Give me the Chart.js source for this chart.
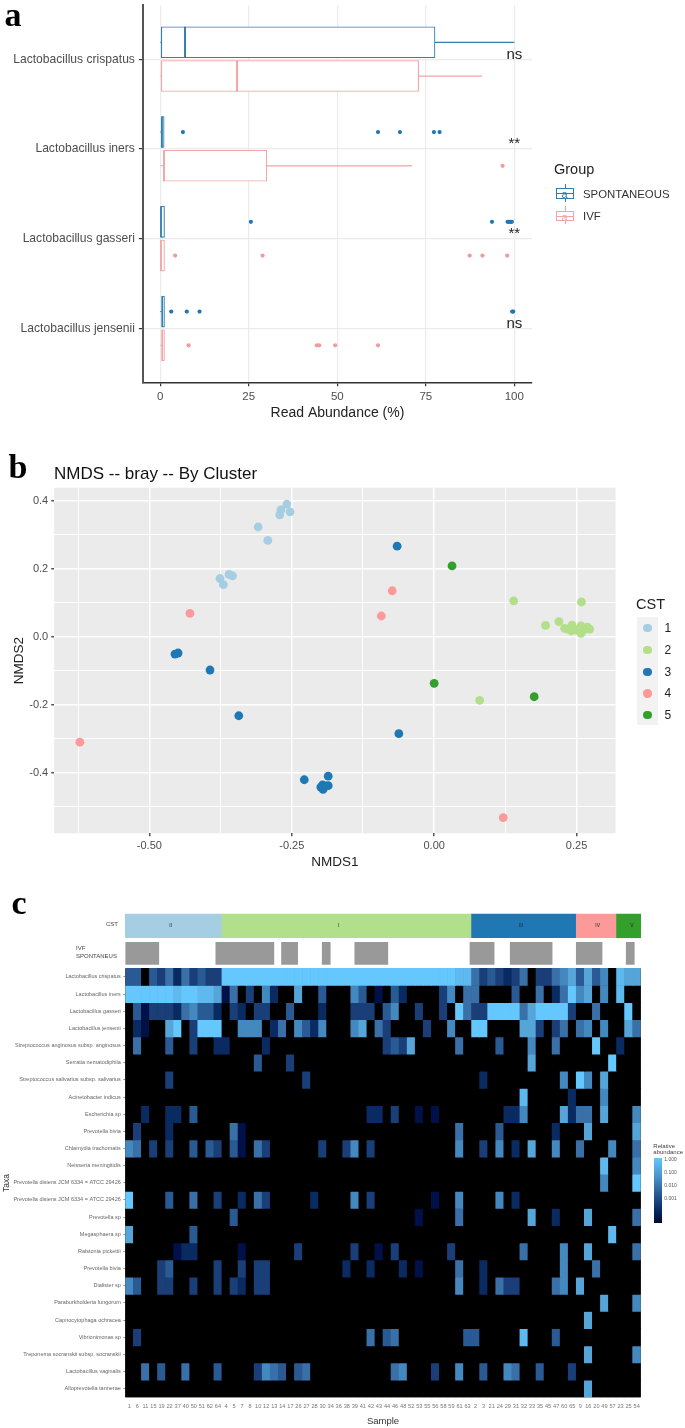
<!DOCTYPE html>
<html><head><meta charset="utf-8"><title>Vaginal microbiome panels</title>
<script src="https://cdn.jsdelivr.net/npm/chart.js@4"></script>
<style>
html,body{margin:0;padding:0;background:#fff}
#page{position:relative;width:685px;height:1428px;overflow:hidden;font-family:"Liberation Sans",Arial,sans-serif;filter:blur(.45px)}
canvas{position:absolute;left:0;display:block}
.t{position:absolute;white-space:nowrap;line-height:1;transform:translateY(-50%)}
.s{position:absolute;box-sizing:border-box}
</style></head><body><div id="page">
<canvas id="ca" width="685" height="450" style="top:-10px"></canvas>
<canvas id="cb" width="685" height="430" style="top:450px"></canvas>
<canvas id="cc" width="685" height="538" style="top:890px"></canvas>
</div>
<script>
/* ---------- panel a: box plots ---------- */
const species = ['Lactobacillus crispatus','Lactobacillus iners','Lactobacillus gasseri','Lactobacillus jensenii'];
const groupNames = ['SPONTANEOUS','IVF'];
const significance = ['ns','**','**','ns'];
const lowSpont = [0,0,0,0];
const q1Spont = [0.3,0.3,0,0.4];
const medSpont = [7,0.5,0.2,0.6];
const q3Spont = [77.6,1.1,1.2,1.2];
const highSpont = [100,1.1,1.2,1.2];
const lowIvf = [0,0,0,0];
const q1Ivf = [0.3,0.9,0,0.4];
const medIvf = [21.7,1.1,0.2,0.6];
const q3Ivf = [73,30.1,1.2,1.2];
const highIvf = [90.9,71.1,1.2,1.2];
const outliersSpont = [[],[6.4,61.5,67.7,77.3,78.9],[25.6,93.7,98.1,98.5,98.9,99.3],[3.1,7.5,11.1,99.4,99.7]];
const outliersIvf = [[],[96.7],[4.2,28.9,87.4,91,98],[8,44.2,44.9,49.4,61.5]];
const xTicksA = [0,25,50,75,100];

/* ---------- panel b: NMDS ordination ---------- */
const cstNames = ['1','2','3','4','5'];
const cst1x = [-.2585,-.271,-.269,-.253,-.309,-.292,-.360,-.354,-.376,-.370];
const cst1y = [.390,.358,.3725,.367,.3225,.283,.183,.179,.171,.153];
const cst2x = [.1396,.2585,.1956,.219,.229,.235,.241,.242,.25,.258,.258,.264,.269,.273,.255,.0798];
const cst2y = [.105,.102,.033,.044,.0245,.022,.0167,.034,.0196,.0098,.032,.0216,.028,.0225,.017,-.187];
const cst3x = [-.065,-.455,-.4495,-.3935,-.343,-.062,-.228,-.186,-.196,-.195,-.191,-.186,-.199];
const cst3y = [.266,-.051,-.048,-.098,-.2324,-.285,-.4206,-.41,-.436,-.449,-.439,-.438,-.442];
const cst4x = [-.4287,-.0736,-.0928,-.622,.1212];
const cst4y = [.0686,.135,.0608,-.31,-.532];
const cst5x = [.0314,0,.1756];
const cst5y = [.208,-.137,-.1765];
const xMajorB = [-.5,-.25,0,.25];
const xMinorB = [-.625,-.375,-.125,.125];
const yMajorB = [-.4,-.2,0,.2,.4];
const yMinorB = [-.5,-.3,-.1,.1,.3];

/* ---------- panel c: heat map ---------- */
const samples = ['1','6','11','15','19','22','37','40','50','51','62','64','4','5','7','8','10','12','13','14','17','26','27','28','30','34','36','38','39','41','42','43','44','46','48','52','53','55','56','58','59','61','63','2','3','21','24','29','31','32','33','35','45','47','60','65','9','16','20','49','57','23','25','54'];
const taxa = ['Lactobacillus crispatus','Lactobacillus iners','Lactobacillus gasseri','Lactobacillus jensenii','Streptococcus anginosus subsp. anginosus','Serratia nematodiphila','Streptococcus salivarius subsp. salivarius','Acinetobacter indicus','Escherichia sp','Prevotella bivia','Chlamydia trachomatis','Neisseria meningitidis','Prevotella disiens JCM 6334 = ATCC 29426','Prevotella disiens JCM 6334 = ATCC 29426','Prevotella sp','Megasphaera sp','Ralstonia pickettii','Prevotella bivia','Dialister sp','Paraburkholderia fungorum','Capnocytophaga ochracea','Vibrionimonas sp','Treponema socranskii subsp. socranskii','Lactobacillus vaginalis','Alloprevotella tannerae'];
/* colour level per sample: 0 = absent, 9 = about 1.000 relative abundance */
const levelColors = ['#000000','#001048','#0a2a62','#1a3e78','#2a5a94','#3a70a8','#4488c0','#55a5d8','#5ebaee','#64c8ff'];
/* first four taxa, every sample in order */
const crispatus = [4,4,0,4,3,5,2,5,3,4,3,3, 9,9,9,9,9,9,9,9,9,9,9,9,9,9,9,9,9,9,9,9,9,9,9,9,9,9,9,9,9,8,8, 5,3,4,3,2,3,5,0,3,3,5,6,7,4,7,4,6,0,8,7,7];
const iners = [9,9,9,9,9,9,8,9,9,8,8,7, 1,5,0,3,0,6,2,0,0,7, 0,0,4,0,0,0,6,4,0,1,0, 4,2,0,0,0,0,3,6,0,5, 5,0,0,0,0,4,0,0,5,0,2,5,9,6,7,0,6,0,8,0,0];
const gasseri = [0,4,1,3,3,3,2,5,6,4,4,2, 0,3,2,0,3,3,0,0,4,0, 0,0,2,0,0,0,3,3,3,0,4, 6,0,0,3,0,0,3,0,9,5, 3,3,9,9,9,9,5,7,9,9,9,9,3,0,0,5,0,0,0,9,0];
const jensenii = [0,2,1,0,0,7,9,0,3,9,9,9, 0,0,6,6,6,0,2,5,0,6, 4,2,6,0,0,0,6,7,0,5,3, 0,0,0,0,3,0,0,6,0,0, 9,9,0,0,0,0,7,7,3,0,3,5,0,5,6,0,6,0,0,7,5];
/* remaining taxa, listed as [sample position, level] where present */
const anginosus = [[1,5],[5,4],[8,3],[11,2],[12,2],[17,2],[32,3],[33,4],[34,3],[35,7],[41,5],[46,4],[50,6],[53,5],[58,9],[61,2]];
const serratia = [[16,4],[20,3],[50,7],[60,9]];
const salivarius = [[5,3],[22,3],[44,2],[54,6],[56,9],[57,6],[59,7]];
const acinetobacter = [[49,8],[55,2],[59,6]];
const escherichia = [[2,2],[5,2],[6,2],[8,4],[30,2],[31,2],[33,3],[36,1],[38,1],[47,2],[48,2],[49,6],[54,7],[55,2],[56,5],[57,5],[59,7],[63,6]];
const bivia1 = [[1,3],[5,2],[13,5],[14,1],[41,5],[46,4],[53,2],[57,7],[63,7]];
const chlamydia = [[0,6],[1,5],[3,3],[5,3],[8,4],[10,4],[11,3],[13,4],[14,1],[16,5],[17,3],[24,3],[27,3],[28,6],[30,3],[41,6],[44,3],[46,6],[48,2],[50,7],[53,6],[56,5],[60,6],[63,5]];
const neisseria = [[59,8],[63,6]];
const disiens1 = [[59,6],[63,9]];
const disiens2 = [[0,9],[5,4],[8,5],[11,3],[14,2],[16,5],[17,3],[23,2],[28,6],[30,3],[38,1],[41,6],[46,6],[48,2]];
const prevotellaSp = [[13,4],[36,1],[41,5],[50,7],[53,2],[57,7],[63,5]];
const megasphaera = [[0,7],[8,4],[60,8]];
const ralstonia = [[6,1],[7,2],[8,2],[14,1],[21,3],[28,3],[31,1],[33,3],[40,3],[49,5],[54,6],[57,7],[63,5]];
const bivia2 = [[4,3],[5,4],[11,3],[14,3],[16,3],[17,3],[27,2],[30,2],[34,2],[36,1],[41,5],[44,2],[54,6],[58,5]];
const dialister = [[0,6],[1,4],[4,3],[5,3],[8,3],[11,3],[13,3],[14,2],[16,3],[17,3],[41,6],[44,2],[46,5],[47,3],[48,3],[53,5],[54,6],[56,7]];
const paraburkholderia = [[59,7],[63,6]];
const capnocytophaga = [[57,7]];
const vibrionimonas = [[1,3],[30,5],[32,4],[33,5],[42,4],[43,4],[49,8],[53,4]];
const treponema = [[57,7],[63,6]];
const vaginalis = [[2,5],[4,4],[7,5],[11,4],[16,3],[17,6],[18,5],[19,4],[21,4],[22,5],[33,5],[34,6],[38,3],[41,6],[44,4],[47,6],[48,5],[51,4],[55,3]];
const alloprevotella = [[57,7]];
const heatRows = [crispatus,iners,gasseri,jensenii,anginosus,serratia,salivarius,acinetobacter,escherichia,bivia1,chlamydia,neisseria,disiens1,disiens2,prevotellaSp,megasphaera,ralstonia,bivia2,dialister,paraburkholderia,capnocytophaga,vibrionimonas,treponema,vaginalis,alloprevotella];
const cstLabels = ['II','I','III','IV','V'];
const cstStart = [0,12,43,56,61];
const cstEnd = [12,43,56,61,64];
const cstColors = ['#a6cee3','#b2df8a','#1f78b4','#fb9a99','#33a02c'];
const ivfStart = [0.02,11.24,19.4,24.45,28.5,42.8,47.8,56,62.2];
const ivfEnd = [4.16,18.45,21.4,25.45,32.6,45.8,53,59.2,63.2];
const colorbarLabels = ['1.000','0.100','0.010','0.001'];

/* ---------- shared ---------- */
Chart.defaults.font.family = '"Liberation Sans", Arial, sans-serif';
const page = document.getElementById('page');
function txt(s,x,y,size,color,extra){
  const d=document.createElement('div');d.className='t';d.textContent=s;
  d.style.cssText=`left:${x}px;top:${y}px;font-size:${size}px;color:${color};${extra||''}`;
  page.appendChild(d);return d;
}
function rect(x,y,w,h,css){
  const d=document.createElement('div');d.className='s';
  d.style.cssText=`left:${x}px;top:${y}px;width:${w}px;height:${h}px;${css}`;
  page.appendChild(d);return d;
}
const base={responsive:false,animation:false,devicePixelRatio:1,
  plugins:{legend:{display:false},tooltip:{enabled:false},title:{display:false}}};

/* ---------- panel a ---------- */
const BLUE='#2f7fb0',PINK='#f3a4a4',BLUEDOT='#1f78b4',PINKDOT='#f29b9b';
const OFF=.188;
function segs(a,b,off){const r=[];a.forEach((v,i)=>{r.push({x:v,y:i+off},{x:b[i],y:i+off},{x:null,y:null});});return r;}
function medians(m,off,wide){const r=[];m.forEach((v,i)=>{if((v>2)===wide)r.push({x:v,y:i+off-.172},{x:v,y:i+off+.172},{x:null,y:null});});return r;}
function lineDs(label,data,color,w){return {type:'scatter',label,data,showLine:true,spanGaps:false,borderColor:color,borderWidth:w,pointRadius:0};}
function dotDs(label,lists,off,color){const d=[];lists.forEach((l,i)=>l.forEach(v=>d.push({x:v,y:i+off})));
  return {type:'scatter',label,data:d,pointRadius:2.1,pointBackgroundColor:color,pointBorderWidth:0};}
function boxDs(label,q1,q3,off,color){return {type:'bar',label,indexAxis:'y',grouped:false,barThickness:31,
  data:q1.map((v,i)=>({x:[v,q3[i]],y:i+off})),backgroundColor:'#fff',borderColor:color,borderWidth:1.1,borderSkipped:false};}
const sigPlugin={id:'sig',afterDatasetsDraw(ch){
  const c=ch.ctx,xs=ch.scales.x,ys=ch.scales.y;c.save();c.textAlign='center';c.textBaseline='middle';c.fillStyle='#222';
  c.font='15px "Liberation Sans"';
  significance.forEach((s,i)=>{c.fillText(s,xs.getPixelForValue(100),ys.getPixelForValue(i-(s==='ns'?.05:.055)));});
  c.restore();}};
new Chart(document.getElementById('ca'),{type:'scatter',
 data:{datasets:[
  lineDs('median SPONTANEOUS',medians(medSpont,-OFF,true),BLUE,2),
  lineDs('median IVF',medians(medIvf,OFF,true),PINK,2),
  lineDs('median SPONTANEOUS low',medians(medSpont,-OFF,false),BLUE,.9),
  lineDs('median IVF low',medians(medIvf,OFF,false),PINK,.9),
  lineDs('whisker SPONTANEOUS',segs(q3Spont,highSpont,-OFF),BLUE,1.2),
  lineDs('whisker IVF',segs(q3Ivf,highIvf,OFF),PINK,1.2),
  lineDs('low SPONTANEOUS',segs(lowSpont,q1Spont,-OFF),BLUE,1),
  lineDs('low IVF',segs(lowIvf,q1Ivf,OFF),PINK,1),
  dotDs('outliers SPONTANEOUS',outliersSpont,-OFF,BLUEDOT),
  dotDs('outliers IVF',outliersIvf,OFF,PINKDOT),
  boxDs(groupNames[0],q1Spont,q3Spont,-OFF,BLUE),
  boxDs(groupNames[1],q1Ivf,q3Ivf,OFF,PINK)
 ]},
 options:{...base,layout:{padding:{left:0,right:153,top:15.3,bottom:0}},
  scales:{
   x:{type:'linear',min:-4.9,max:105,offset:false,
      afterBuildTicks:s=>{s.ticks=xTicksA.map(v=>({value:v}));},
      afterFit:s=>{s.height=57.7;},
      grid:{color:'#ebebeb',lineWidth:1.2,offset:false,tickColor:'#333',tickLength:4},
      border:{display:true,color:'#333',width:1.5},
      ticks:{color:'#4d4d4d',font:{size:11.5},padding:4,maxRotation:0,autoSkip:false},
      title:{display:true,text:'Read Abundance (%)',color:'#222',font:{size:14},padding:{top:0,bottom:18}}},
   y:{type:'linear',min:-.6,max:3.6,reverse:true,offset:false,
      afterBuildTicks:s=>{s.ticks=species.map((n,i)=>({value:i}));},
      afterFit:s=>{s.width=142.9;},
      grid:{color:'#ebebeb',lineWidth:1.2,offset:false,tickColor:'#333',tickLength:4},
      border:{display:true,color:'#555',width:2},
      ticks:{color:'#4d4d4d',font:{size:12.1},padding:4,autoSkip:false,callback:v=>species[v]}}
  }},plugins:[sigPlugin]});

txt('Group',554,169,14.5,'#222');
txt(groupNames[0],583,194.7,11.4,'#333');
txt(groupNames[1],583,217,11.4,'#333');
[[184,188,199,BLUE],[206,210.7,221.5,PINK]].forEach(([wy,by,be,col])=>{
  rect(564.7,wy,1.2,18,`background:${col}`);
  rect(556,by,18,be-by,`border:1.2px solid ${col};background:#fff`);
  rect(556,(by+be)/2-.6,18,1.2,`background:${col}`);
  txt('a',561.5,(by+be)/2+.5,11,col);
});

/* ---------- panel b ---------- */
const bgPlugin={id:'bg',beforeDraw(ch){const a=ch.chartArea,c=ch.ctx;c.save();c.fillStyle='#ebebeb';c.fillRect(a.left,a.top,a.right-a.left,a.bottom-a.top);c.restore();}};
const scatterSets=[[cst1x,cst1y],[cst2x,cst2y],[cst3x,cst3y],[cst4x,cst4y],[cst5x,cst5y]];
new Chart(document.getElementById('cb'),{type:'scatter',
 data:{datasets:scatterSets.map(([xs,ys],k)=>({label:cstNames[k],data:xs.map((v,i)=>({x:v,y:ys[i]})),
   pointRadius:4.4,pointBackgroundColor:cstColors[k],pointBorderWidth:0}))},
 options:{...base,layout:{padding:{left:0,right:69.4,top:37.7,bottom:0}},
  scales:{
   x:{type:'linear',min:-.667,max:.3185,
      afterBuildTicks:s=>{s.ticks=[...xMinorB,...xMajorB].sort((a,b)=>a-b).map(v=>({value:v}));},
      afterFit:s=>{s.height=46.7;},
      grid:{color:'#fff',lineWidth:c=>xMajorB.includes(c.tick&&c.tick.value)?1.5:.9,
            tickColor:c=>xMajorB.includes(c.tick&&c.tick.value)?'#555':'rgba(0,0,0,0)',tickLength:3},
      border:{display:false},
      ticks:{color:'#4d4d4d',font:{size:11},padding:3,maxRotation:0,autoSkip:false,
             callback:v=>xMajorB.includes(v)?v.toFixed(2):''},
      title:{display:true,text:'NMDS1',color:'#222',font:{size:13.5},padding:{top:0,bottom:10}}},
   y:{type:'linear',min:-.578,max:.438,
      afterBuildTicks:s=>{s.ticks=[...yMinorB,...yMajorB].sort((a,b)=>a-b).map(v=>({value:v}));},
      afterFit:s=>{s.width=54.2;},
      grid:{color:'#fff',lineWidth:c=>yMajorB.includes(c.tick&&c.tick.value)?1.5:.9,
            tickColor:c=>yMajorB.includes(c.tick&&c.tick.value)?'#555':'rgba(0,0,0,0)',tickLength:3},
      border:{display:false},
      ticks:{color:'#4d4d4d',font:{size:11},padding:3,autoSkip:false,
             callback:v=>yMajorB.includes(v)?v.toFixed(1):''},
      title:{display:true,text:'NMDS2',color:'#222',font:{size:13.5},padding:{top:11,bottom:0}}}
  }},plugins:[bgPlugin]});

txt('NMDS -- bray -- By Cluster',54,472.7,17,'#111');
txt('CST',636,604,14.5,'#222');
rect(636.5,616.7,21.5,108.6,'background:#f2f2f2');
cstNames.forEach((n,i)=>{
  const y=628.3+i*21.7;
  rect(643.2,y-4.2,8.4,8.4,`background:${cstColors[i]};border-radius:50%`);
  txt(n,664.5,y,12,'#222');
});

/* ---------- panel c ---------- */
function rowLevels(row){
  if(Array.isArray(row[0])){const a=samples.map(()=>0);row.forEach(([c,l])=>{a[c]=l;});return a;}
  return row;
}
const heatSets=heatRows.map((row,r)=>{
  const lv=rowLevels(row);
  return {label:taxa[r],xAxisID:'x',yAxisID:'y',grouped:false,barPercentage:1,categoryPercentage:1,borderWidth:0,
    data:lv.map((l,c)=>({x:samples[c],y:[r,r+1]})),backgroundColor:lv.map(l=>levelColors[l])};
});
const cstSet={label:'CST',indexAxis:'y',xAxisID:'xn',yAxisID:'y',grouped:false,barThickness:23.7,borderWidth:0,
  data:cstStart.map((v,i)=>({x:[v,cstEnd[i]],y:-2.47})),backgroundColor:cstColors,clip:false};
const ivfSet={label:'IVF / SPONTANEUS',indexAxis:'y',xAxisID:'xn',yAxisID:'y',grouped:false,barThickness:22,borderWidth:0,
  data:ivfStart.map((v,i)=>({x:[v,ivfEnd[i]],y:-.874})),backgroundColor:'#999999'};
const heatUnderlay={id:'heatUnderlay',beforeDatasetsDraw(ch){
  const a=ch.chartArea,c=ch.ctx,y=ch.scales.y,t=y.getPixelForValue(0),b=y.getPixelForValue(taxa.length);
  c.save();c.fillStyle='#000';c.fillRect(a.left,t,a.right-a.left,b-t);c.restore();}};
new Chart(document.getElementById('cc'),{type:'bar',
 data:{labels:samples,datasets:[cstSet,ivfSet,...heatSets]},
 options:{...base,layout:{padding:{left:0,right:44.3,top:23.4,bottom:0}},
  scales:{
   x:{type:'category',offset:true,afterFit:s=>{s.height=30.7;},
      grid:{display:false,tickLength:2},border:{display:false},
      ticks:{color:'#777',font:{size:5.6},padding:4,maxRotation:0,minRotation:0,autoSkip:false},
      title:{display:true,text:'Sample',color:'#333',font:{size:9.5},padding:{top:0,bottom:1}}},
   xn:{type:'linear',axis:'x',min:0,max:64,display:false,offset:false,grid:{display:false}},
   y:{type:'linear',min:-3.2,max:25,reverse:true,offset:false,
      afterBuildTicks:s=>{s.ticks=taxa.map((n,i)=>({value:i+.5}));},
      afterFit:s=>{s.width=125.3;},
      grid:{drawOnChartArea:false,offset:false,tickColor:'#777',tickLength:2,lineWidth:.8},border:{display:false},
      ticks:{color:'#666',font:{size:5.5},padding:2.5,autoSkip:false,callback:v=>taxa[Math.floor(v)]}}
  }},plugins:[heatUnderlay]});

txt('CST',118,924,6,'#444','transform:translate(-100%,-50%)');
txt('IVF',76,948,6,'#444');
txt('SPONTANEUS',76,956,6,'#444');
const cstCenters=[170.7,338.7,521,597.7,632];
cstLabels.forEach((s,i)=>txt(s,cstCenters[i],924.5,5,'#223','transform:translate(-50%,-50%)'));
txt('Taxa',5.5,1183,8.5,'#333','transform:translate(-50%,-50%) rotate(-90deg);');
txt('Relative',653.3,1145.7,6,'#444');
txt('abundance',653.3,1151.5,6,'#444');
rect(654,1158.3,8,65,`background:linear-gradient(to bottom,#64c8ff 0%,#4a94cc 28%,#2a5a94 55%,#0a2a62 80%,#000a33 100%)`);
colorbarLabels.forEach((s,i)=>txt(s,664.3,1159.3+i*12.95,5,'#555'));

/* panel letters */
txt('a',4.5,14.5,34,'#000','font-family:\"Liberation Serif\",serif;font-weight:bold');
txt('b',8.5,466.5,34,'#000','font-family:\"Liberation Serif\",serif;font-weight:bold');
txt('c',11.5,902.5,34,'#000','font-family:\"Liberation Serif\",serif;font-weight:bold');
</script></body></html>
